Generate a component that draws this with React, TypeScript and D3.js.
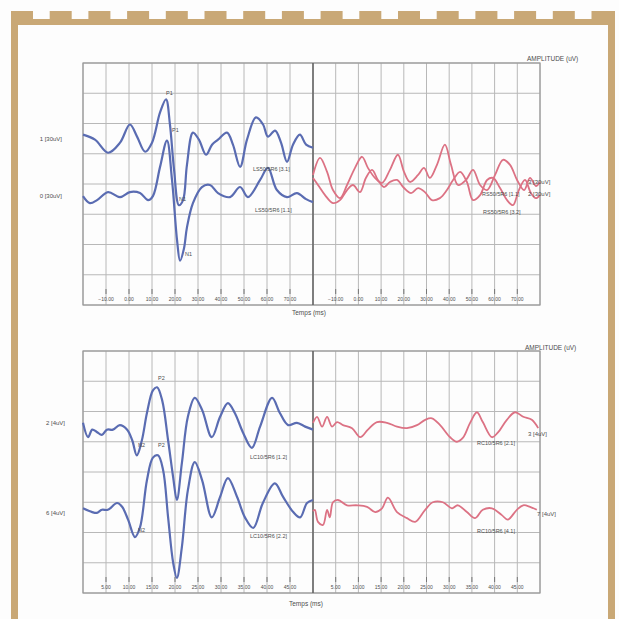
import React from "react";
import * as d3 from "d3";

// ---- data: [time ms, amplitude uV] ----
// top panel (30 uV / division), left = blue, right = red
const trace1 = [
  [-20, 49], [-14.8, 44], [-9.1, 31], [-3.9, 41], [0.4, 59], [3.5, 47], [7, 32], [10, 41],
  [13.5, 71], [16.1, 84], [17.8, 59], [19.6, 14], [21.7, -21], [23.5, -16], [25.2, 19],
  [27.8, 51], [30.4, 44], [33.5, 29], [36.1, 39], [38.7, 44], [42.6, 51], [45.2, 39],
  [48.3, 17], [51.3, 44], [55.2, 66], [58.3, 59], [60.4, 47], [63.5, 53], [66.1, 41],
  [68.7, 22], [71.3, 39], [74.3, 49], [77, 39], [80, 36],
];
const trace0 = [
  [-20, -12], [-17, -19], [-13.9, -16], [-9.1, -8], [-3.9, -13], [0.4, -8], [4.8, -9],
  [8.3, -16], [10.4, -12], [13.5, 17], [16.5, 43], [18.7, 4], [20.9, -56], [22.2, -76],
  [23.9, -64], [25.2, -43], [27.8, -19], [31.7, -3], [35.2, -1], [38.7, -9], [43.9, -13],
  [48.3, -3], [51.7, -13], [57, 4], [60.4, 16], [64.3, -6], [68.7, -13], [73, -9],
  [77, -15], [80, -18],
];
const trace3 = [
  [-20, 9], [-16.9, 26], [-13.8, 12], [-11.2, -6], [-8.1, -14], [-5, -1], [-1.5, 16],
  [1.6, 27], [4.2, 16], [7.3, 6], [10.4, 1], [13.9, 14], [17.4, 29], [20.1, 12], [22.7, 2],
  [26.3, 9], [28.9, 16], [31.5, 6], [34.6, 19], [38.1, 39], [40.8, 19], [43.9, -1],
  [47.4, 4], [50.5, 14], [53.6, -1], [56.7, -6], [60.2, 9], [63.7, 24], [66.8, 19],
  [69.9, 4], [73, -6], [75.6, 6], [78.2, -2], [80, 2],
];
const trace2 = [
  [-20, 6], [-17.8, -1], [-14.7, -11], [-11.2, -19], [-8.1, -16], [-5, -6], [-2.4, -1],
  [0.7, -8], [3.3, 6], [6, 14], [8.6, 4], [11.3, -3], [13.9, 2], [17, 4], [20.1, -4],
  [23.2, -9], [26.3, -4], [29.3, -8], [32.4, -16], [35.9, -14], [39, -6], [41.7, 4],
  [44.8, 12], [47.8, 2], [50.5, -16], [53.6, -11], [56.7, 4], [59.3, 6], [62.4, -4],
  [65.5, -16], [68.1, -21], [70.7, -6], [73.4, 4], [76, -9], [78.2, -14], [80, -11],
];

// bottom panel (4 uV / division)
const traceB2 = [
  [0, 6.5], [1.1, 4.6], [2, 5.6], [3, 5.3], [4.1, 4.9], [5.2, 5.6], [6.5, 5.6], [8, 6.2],
  [9.6, 5.6], [10.7, 4.2], [11.7, 2.2], [12.8, 4.2], [13.9, 7.8], [15.2, 10.8], [16.1, 11.2],
  [17.2, 9.5], [18.5, 4.2], [19.6, -0.7], [20.4, -3.7], [21.5, 1.2], [22.8, 7.3], [24.3, 9.8],
  [25.9, 8.2], [28, 4.6], [29.8, 7.3], [31.5, 9.1], [33, 7.8], [34.8, 5.2], [36.7, 3.2],
  [38.5, 6], [41.1, 9.8], [42.8, 7.8], [44.6, 6.2], [46.5, 6.5], [48.3, 6], [50, 5.6],
];
const traceB6 = [
  [0, -4.8], [2, -5.3], [3, -5.4], [4.1, -5], [5.4, -5], [7.4, -4.1], [8.5, -4.6], [9.8, -6.3],
  [11.3, -8.6], [12.4, -7.3], [13.9, -1.1], [15.2, 1.9], [16.3, 2.2], [17.4, 0.3], [18.5, -6],
  [19.6, -12], [20.4, -14], [21.5, -9.9], [22.8, -2.4], [24.3, 1.3], [25.9, -1.1], [28, -6],
  [29.8, -3.3], [31.5, -0.8], [33.5, -3.3], [35.2, -6], [37, -7.4], [39.1, -4.1], [41.7, -1.5],
  [43.5, -3.3], [45.7, -5.3], [47.2, -6], [48.7, -4.1], [50, -3.7],
];
const traceB3 = [
  [0, 6.5], [0.9, 7.3], [2, 6], [3.1, 7.3], [4.2, 6], [5.3, 6.6], [6.6, 6.2], [8.6, 5.8],
  [10.4, 4.6], [12.1, 5.6], [14.1, 6.6], [16.3, 6.5], [18.5, 6], [20.7, 5.8], [22.9, 6.2],
  [24.7, 6.9], [26.2, 7.1], [28, 6.2], [30.2, 4.6], [31.7, 4], [33, 4.5], [34.6, 6.5],
  [36.1, 7.9], [37.4, 6.6], [39.4, 4.6], [40.7, 5.2], [42.7, 6.9], [44.5, 7.9], [46.3, 7.3],
  [48.2, 6.9], [49.6, 5.8],
];
const traceB7 = [
  [0, -5.2], [0.4, -5], [1.1, -6.6], [2.2, -7], [3.1, -5], [3.7, -6], [4.4, -4], [5.5, -3.7],
  [7.5, -4.4], [9.7, -4.4], [11.9, -4.6], [13.7, -5.3], [15.2, -4.8], [16.5, -3.4], [18.5, -5.3],
  [20.7, -6.1], [22.5, -6.6], [24.7, -5], [26.4, -4], [28.6, -4], [30.6, -4.8], [31.9, -4.4],
  [33.9, -5.3], [35.7, -6.1], [37.4, -5], [39.4, -4.8], [41.6, -5.7], [42.9, -6.3], [44.9, -5],
  [46.3, -4.4], [47.8, -4.6], [49.3, -5],
];

const topTicks = [-10, 0, 10, 20, 30, 40, 50, 60, 70];
const bottomTicks = [5, 10, 15, 20, 25, 30, 35, 40, 45];

const BLUE = "#5a6cb2";
const RED = "#dc7284";
const GRID = "#b8b8b8";
const TEXT = "#4d4d4d";
const FRAME = "#c9a876";

const fmt = d3.format(".2f");

function Panel({ top, bottom, xDomain, yDomain, ticks, left, right, labels }) {
  const L = 83, M = 313, R = 540;
  const xl = d3.scaleLinear().domain(xDomain).range([L, M]);
  const xr = d3.scaleLinear().domain(xDomain).range([M, R]);
  const y = d3.scaleLinear().domain(yDomain).range([bottom, top]);
  const step = (xDomain[1] - xDomain[0]) / 10;
  const cols = d3.range(xDomain[0], xDomain[1] + step / 2, step);
  const rows = d3.range(yDomain[0], yDomain[1] + 0.001, (yDomain[1] - yDomain[0]) / 8);
  const mk = (x) =>
    d3.line().x((d) => x(d[0])).y((d) => y(d[1])).curve(d3.curveCatmullRom.alpha(0.5));
  return (
    <g>
      {rows.map((r, i) => (
        <line key={"r" + i} x1={L} x2={R} y1={y(r)} y2={y(r)} stroke={GRID} strokeWidth={1} />
      ))}
      {[xl, xr].map((x, k) =>
        cols.map((c, i) => (
          <line key={"c" + k + i} x1={x(c)} x2={x(c)} y1={top} y2={bottom} stroke={GRID} strokeWidth={1} />
        ))
      )}
      <rect x={L} y={top} width={R - L} height={bottom - top} fill="none" stroke="#999" strokeWidth={1.2} />
      <line x1={M} x2={M} y1={top} y2={bottom} stroke="#555" strokeWidth={1.3} />
      {[xl, xr].map((x, k) =>
        ticks.map((t, i) => (
          <g key={"t" + k + i}>
            <line x1={x(t)} x2={x(t)} y1={bottom - 16} y2={bottom - 11} stroke="#777" strokeWidth={1} />
            <text x={x(t)} y={bottom - 4} fontSize={5} textAnchor="middle" fill={TEXT}>
              {fmt(t)}
            </text>
          </g>
        ))
      )}
      {left.map((d, i) => (
        <path key={"l" + i} d={mk(xl)(d)} fill="none" stroke={BLUE} strokeWidth={2.2} />
      ))}
      {right.map((d, i) => (
        <path key={"rr" + i} d={mk(xr)(d)} fill="none" stroke={RED} strokeWidth={1.8} />
      ))}
      {labels.map((l, i) => (
        <text key={"x" + i} x={l[0]} y={l[1]} fontSize={l[3] || 6} textAnchor={l[4] || "start"} fill={TEXT}>
          {l[2]}
        </text>
      ))}
    </g>
  );
}

export default function App() {
  const dashes = d3.range(11, 615, 38.7);
  return (
    <svg width={619} height={619} style={{ position: "absolute", left: 0, top: 0, background: "#fdfdfd" }}
      fontFamily="'Liberation Sans', Arial, sans-serif">
      {dashes.map((x, i) => (
        <rect key={i} x={x} y={11} width={22} height={9} fill={FRAME} />
      ))}
      <rect x={11} y={19} width={604} height={6} fill={FRAME} />
      <rect x={11} y={19} width={7} height={600} fill={FRAME} />
      <rect x={608} y={11} width={7} height={608} fill={FRAME} />

      <Panel
        top={63}
        bottom={305}
        xDomain={[-20, 80]}
        yDomain={[-120, 120]}
        ticks={topTicks}
        left={[trace1, trace0]}
        right={[trace3, trace2]}
        labels={[
          [527, 61, "AMPLITUDE (uV)", 6.5],
          [292, 315, "Temps (ms)", 6.5],
          [62, 141, "1 [30uV]", 6, "end"],
          [62, 198, "0 [30uV]", 6, "end"],
          [253, 171, "LS50/5R6 [3.1]", 5.5],
          [255, 212, "LS50/5R6 [1.1]", 5.5],
          [528, 184, "3 [30uV]", 6],
          [482, 196, "RS50/5R6 [1.1]", 5.5],
          [528, 196, "2 [30uV]", 6],
          [483, 214, "RS50/5R6 [3.2]", 5.5],
          [166, 95, "P1", 5.5],
          [172, 132, "P1", 5.5],
          [179, 201, "N1", 5.5],
          [185, 256, "N1", 5.5],
        ]}
      />
      <Panel
        top={351}
        bottom={593}
        xDomain={[0, 50]}
        yDomain={[-16, 16]}
        ticks={bottomTicks}
        left={[traceB2, traceB6]}
        right={[traceB3, traceB7]}
        labels={[
          [525, 350, "AMPLITUDE (uV)", 6.5],
          [289, 606, "Temps (ms)", 6.5],
          [65, 425, "2 [4uV]", 6, "end"],
          [65, 515, "6 [4uV]", 6, "end"],
          [250, 459, "LC10/5R6 [1.2]", 5.5],
          [250, 538, "LC10/5R6 [2.2]", 5.5],
          [528, 436, "3 [4uV]", 6],
          [477, 445, "RC10/5R6 [2.1]", 5.5],
          [537, 516, "7 [4uV]", 6],
          [477, 533, "RC10/5R6 [4.1]", 5.5],
          [158, 380, "P2", 5.5],
          [138, 447, "N2", 5.5],
          [158, 447, "P2", 5.5],
          [138, 532, "N2", 5.5],
        ]}
      />
    </svg>
  );
}
